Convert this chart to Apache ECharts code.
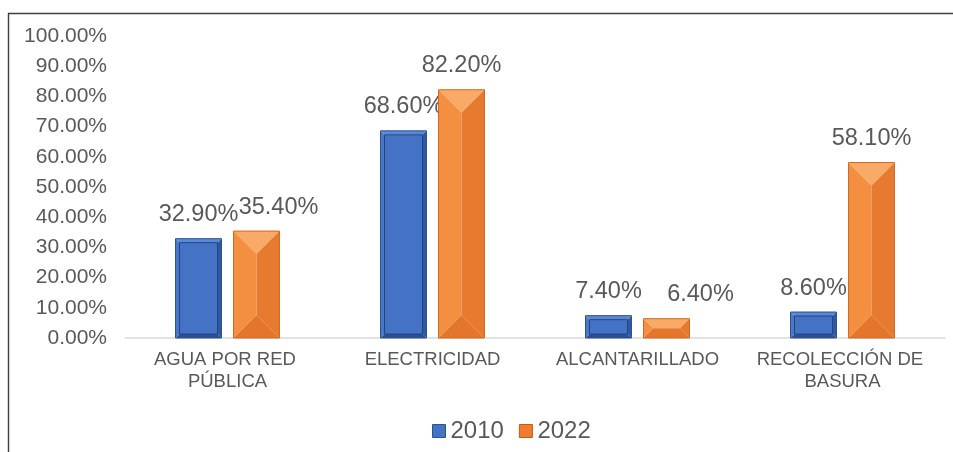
<!DOCTYPE html>
<html>
<head>
<meta charset="utf-8">
<script src="https://cdn.jsdelivr.net/npm/echarts@6/dist/echarts.min.js"></script>
<style>
html,body{margin:0;padding:0;background:#fff;}
#chart{width:953px;height:452px;}
</style>
</head>
<body>
<div id="chart"></div>
<script>
var categories = ['AGUA POR RED PÚBLICA', 'ELECTRICIDAD', 'ALCANTARILLADO', 'RECOLECCIÓN DE BASURA'];
var seriesNames = ['2010', '2022'];
var values2010 = [32.9, 68.6, 7.4, 8.6];
var values2022 = [35.4, 82.2, 6.4, 58.1];
var yMin = 0, yMax = 100, yStep = 10;

var FONT = 'Liberation Sans, Arial, sans-serif';
var TXT = '#595959';

// label nudges (pixels), as placed manually in the original chart
var layoutCfg = {
  labelNudge: [[0, 0, 0, 0], [22, 0, 34, 0]]
};

var blueFaces = {top:'#5a88d6', left:'#4a78c9', right:'#2f58a4', bottom:'#2a4f95', inner:'#4472c4', innerStroke:'#24437f', outer:'#2f528f', bevel:4};
var orangeFaces = {top:'#f8aa66', left:'#f48e40', right:'#e67a2e', bottom:'#e3762b', outer:'#cf6a22', bevel:null};

function poly(pts, fill) {
  return {type:'polygon', shape:{points:pts}, style:{fill:fill, stroke:null}};
}

function makeRender(sIdx, pal) {
  return function (params, api) {
    var ci = api.value(0), v = api.value(1);
    var band = api.size([1, 0])[0];
    var w = band * 0.2244;
    var gap = band * 0.0585;
    var base = api.coord([ci, 0]);
    var top = api.coord([ci, v]);
    var off = w / 2 + gap / 2;
    var cx = base[0] + (sIdx === 0 ? -off : off);
    var x0 = cx - w / 2, x1 = cx + w / 2, y0 = top[1], y1 = base[1];
    var h = y1 - y0;
    var d = pal.bevel ? Math.min(pal.bevel, w / 2, h / 2) : Math.min(w, h) / 2;
    var xi0 = x0 + d, xi1 = x1 - d, yi0 = y0 + d, yi1 = y1 - d;
    var ch = [
      poly([[x0,y0],[x1,y0],[xi1,yi0],[xi0,yi0]], pal.top),
      poly([[x0,y1],[x1,y1],[xi1,yi1],[xi0,yi1]], pal.bottom),
      poly([[x0,y0],[xi0,yi0],[xi0,yi1],[x0,y1]], pal.left),
      poly([[x1,y0],[xi1,yi0],[xi1,yi1],[x1,y1]], pal.right)
    ];
    if (pal.inner) {
      ch.push({type:'rect', shape:{x:xi0, y:yi0, width:xi1 - xi0, height:Math.max(0, yi1 - yi0)},
        style:{fill:pal.inner, stroke:pal.innerStroke, lineWidth:1}});
    }
    ch.push({type:'rect', shape:{x:x0, y:y0, width:w, height:h}, style:{fill:null, stroke:pal.outer, lineWidth:1}});
    var nudge = layoutCfg.labelNudge[sIdx][params.dataIndex] || 0;
    ch.push({type:'text', x:cx + nudge, y:y0 - 24,
      style:{text:v.toFixed(2) + '%', fill:TXT, font:'23.5px ' + FONT, align:'center', verticalAlign:'middle'}});
    return {type:'group', children:ch};
  };
}

function toData(arr) { return arr.map(function (v, i) { return [i, v]; }); }

var chart = echarts.init(document.getElementById('chart'));
chart.setOption({
  animation: false,
  backgroundColor: '#fff',
  graphic: [{
    type:'rect', shape:{x:8.5, y:13.5, width:1200, height:1200},
    style:{fill:null, stroke:'#3f3f3f', lineWidth:1.4}, silent:true, z:0
  }],
  grid: {left:125, right:8, top:36, bottom:114, containLabel:false},
  legend: {
    left: 427, top: 414,
    itemWidth: 13, itemHeight: 13, itemGap: 15,
    textStyle: {fontFamily: FONT, fontSize: 24, color: TXT},
    data: [
      {name:'2010', icon:'rect', itemStyle:{color:'#4472c4', borderColor:'#2f528f', borderWidth:1}},
      {name:'2022', icon:'rect', itemStyle:{color:'#ed7d31', borderColor:'#c55a11', borderWidth:1}}
    ]
  },
  xAxis: {
    type:'category', data: categories,
    axisLine:{show:true, lineStyle:{color:'#d9d9d9', width:1.5}},
    axisTick:{show:false},
    axisLabel:{interval:0, color:TXT, fontFamily:FONT, fontSize:18.5, lineHeight:22, margin:11,
      width:178, overflow:'break', align:'center'}
  },
  yAxis: {
    type:'value', min:yMin, max:yMax, interval:yStep,
    axisLine:{show:false}, axisTick:{show:false}, splitLine:{show:false},
    axisLabel:{color:TXT, fontFamily:FONT, fontSize:21, margin:18,
      formatter:function (v) { return v.toFixed(2) + '%'; }}
  },
  series: [
    {name:seriesNames[0], type:'custom', renderItem:makeRender(0, blueFaces), itemStyle:{color:'#4472c4'},
      encode:{x:0, y:1}, data: toData(values2010), clip:false},
    {name:seriesNames[1], type:'custom', renderItem:makeRender(1, orangeFaces), itemStyle:{color:'#ed7d31'},
      encode:{x:0, y:1}, data: toData(values2022), clip:false}
  ]
});
</script>
</body>
</html>
